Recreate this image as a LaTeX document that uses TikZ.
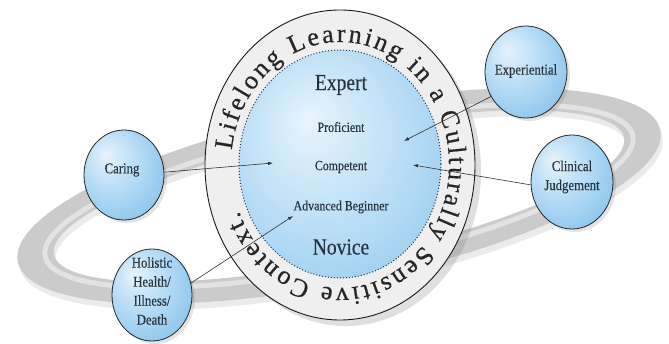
\documentclass[tikz,border=0pt]{standalone}
\usepackage{fontspec}
\setmainfont{Liberation Serif}
\newfontfamily\labfont[FakeStretch=0.85,FakeBold=0.3]{Liberation Serif}
\newfontfamily\ringfamily[FakeBold=0.6]{Liberation Serif}
\usetikzlibrary{shapes.geometric,arrows.meta,decorations.text,shadows}
\definecolor{satA}{HTML}{E6F3FC}
\definecolor{satB}{HTML}{A9D5F3}
\definecolor{satC}{HTML}{5DA9E0}
\definecolor{coreA}{HTML}{E8F4FC}
\definecolor{coreB}{HTML}{B0D9F4}
\definecolor{coreC}{HTML}{6CB3E5}
\definecolor{ringA}{HTML}{EFEFEF}
\definecolor{ringB}{HTML}{D6D6D6}
\definecolor{ringC}{HTML}{C4C4C4}
\definecolor{bandcol}{HTML}{CBCBCB}
\definecolor{inktext}{HTML}{27323D}
\definecolor{dotcol}{HTML}{1E3553}
\pgfdeclareradialshading{satshade}{\pgfpoint{-12bp}{12bp}}{color(0bp)=(satA); color(22bp)=(satB); color(52bp)=(satC)}
\pgfdeclareradialshading{coreshade}{\pgfpoint{-8bp}{10bp}}{color(0bp)=(coreA); color(25bp)=(coreB); color(52bp)=(coreC)}
\pgfdeclareradialshading{ringshade}{\pgfpoint{-10bp}{10bp}}{color(0bp)=(ringA); color(32bp)=(ringA); color(48bp)=(ringB); color(62bp)=(ringC)}
\newcommand{\ringfnt}{\ringfamily\fontsize{26}{26}\selectfont}
\tikzset{
  sat/.style={ellipse, draw=black!85, line width=0.8pt, shading=satshade,
    inner sep=0pt, drop shadow={opacity=0.22, shadow xshift=3pt, shadow yshift=-3pt}},
  satlab/.style={font=\labfont\fontsize{15}{19}\selectfont, text=inktext, align=center, inner sep=0pt},
  lvlbig/.style={font=\labfont\fontsize{23}{23}\selectfont, text=inktext, inner sep=0pt},
  lvlsmall/.style={font=\labfont\fontsize{14}{14}\selectfont, text=inktext, inner sep=0pt},
  conn/.style={draw=black!80, line width=0.6pt, -{Latex[length=5pt,width=3.5pt]}},
}
\begin{document}
\begin{tikzpicture}[x=1pt,y=1pt]
\useasboundingbox[fill=white] (0,0) rectangle (669,343);
% orbit band
\begin{scope}[shift={(341,141)}, rotate=11.6]
  \fill[even odd rule, black!8] (0,0) ellipse [x radius=328, y radius=87]
                                (0,0) ellipse [x radius=291, y radius=64];
\end{scope}
\begin{scope}[shift={(339,147)}, rotate=11.6]
  \fill[even odd rule, bandcol] (0,0) ellipse [x radius=328, y radius=87]
                                (0,0) ellipse [x radius=291, y radius=64];
  \draw[white, opacity=0.45, line width=5pt] (0,0) ellipse [x radius=300, y radius=70];
\end{scope}
% main ring and core
\node[ellipse, draw=black!90, line width=0.9pt, shading=ringshade, inner sep=0pt,
      minimum width=270pt, minimum height=310pt,
      drop shadow={opacity=0.25, shadow xshift=6pt, shadow yshift=-6pt}] (ring) at (340,178) {};
\node[ellipse, draw=dotcol, line width=1pt, dotted, shading=coreshade, inner sep=0pt,
      minimum width=202pt, minimum height=228pt] (core) at (340,179) {};
% ring text
\path[decorate, decoration={text along path,
      text={|\ringfnt|Lifelong Learning in a Culturally Sensitive Context.},
      text align=fit to path, text color=black!85}]
  (340,178) ++(173:109 and 123) arc[start angle=173, end angle=-158, x radius=109, y radius=123];
% level labels
\node[lvlbig]   (expert) at (341,258) {Expert};
\node[lvlsmall] (prof)   at (341,216) {Proficient};
\node[lvlsmall] (comp)   at (341,176) {Competent};
\node[lvlsmall] (adv)    at (341,136) {Advanced Beginner};
\node[lvlbig]   (nov)    at (341,96)  {Novice};
% satellites
\node[sat, minimum width=82pt, minimum height=92pt] (exp) at (526,271) {};
\node[satlab] (expt) at (526,272) {Experiential};
\node[sat, minimum width=82pt, minimum height=94pt] (cli) at (572,161) {};
\node[satlab] (clit) at (572,166) {Clinical\\Judgement};
\node[sat, minimum width=80pt, minimum height=90pt] (car) at (124,168) {};
\node[satlab] (cart) at (122,173) {Caring};
\node[sat, minimum width=80pt, minimum height=92pt] (hol) at (152,48) {};
\node[satlab] (holt) at (152,52) {Holistic\\Health/\\Illness/\\Death};
% connectors
\coordinate (tCar) at (273,180);
\coordinate (tExp) at (404,202);
\coordinate (tCli) at (413,178);
\coordinate (tHol) at (293,127);
\draw[conn] (car.4) -- (tCar);
\draw[conn] (exp.215) -- (tExp);
\draw[conn] (cli.184) -- (tCli);
\draw[conn] (hol.17) -- (tHol);
\end{tikzpicture}
\end{document}
